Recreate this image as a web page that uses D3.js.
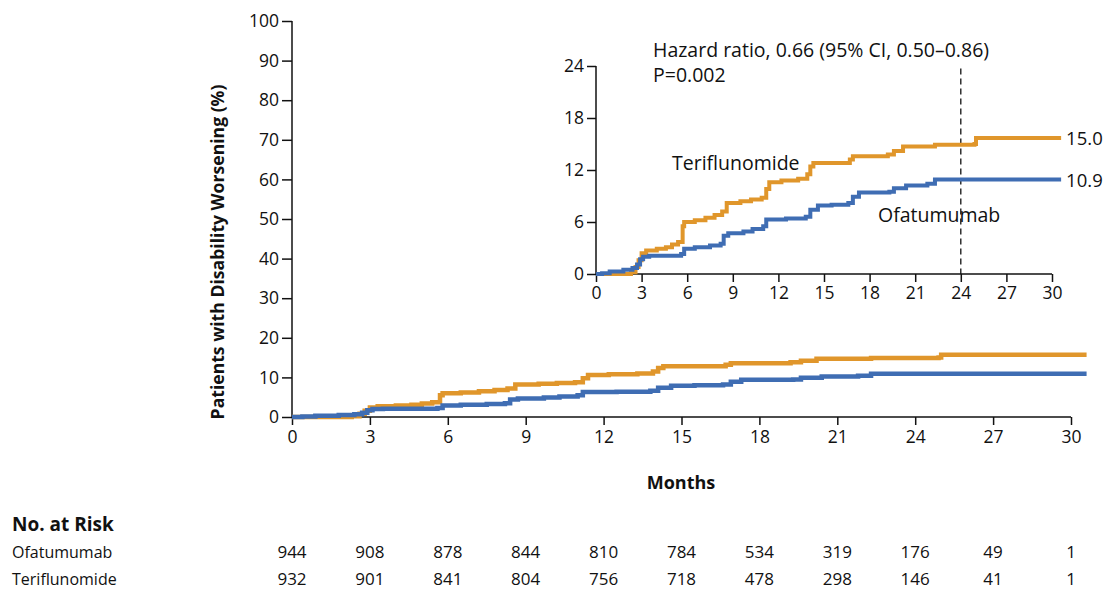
<!DOCTYPE html>
<html>
<head>
<meta charset="utf-8">
<script src="https://cdn.jsdelivr.net/npm/d3@7"></script>
<style>
  body { margin: 0; background: #fff; }
  text { font-family: "Open Sans", sans-serif; fill: #111; }
</style>
</head>
<body>
<svg id="chart" width="1106" height="589"></svg>
<script>
// data
const months = [0, 3, 6, 9, 12, 15, 18, 21, 24, 27, 30];
const mainYTicks = [0, 10, 20, 30, 40, 50, 60, 70, 80, 90, 100];
const insetYTicks = [0, 6, 12, 18, 24];

// cumulative % with disability worsening, [month, pct]
const teriflunomide = [[0,0],[2.3,0.2],[2.6,0.8],[2.8,1.6],[3.0,2.4],[3.3,2.7],[4.0,2.9],[4.6,3.1],[5.0,3.4],[5.4,3.7],
  [5.7,5.5],[5.8,6.0],[6.5,6.2],[7.2,6.5],[7.8,6.8],[8.3,7.2],[8.6,8.2],[9.5,8.4],[10.2,8.6],[10.9,8.8],
  [11.2,9.8],[11.4,10.6],[12.2,10.8],[13.3,11.0],[13.9,11.5],[14.1,12.4],[14.3,12.8],[16.7,13.2],[16.9,13.6],
  [19.2,13.8],[19.6,14.2],[20.2,14.7],[22.3,14.9],[24.9,15.0],[25.0,15.7],[30.6,15.7]];
const ofatumumab = [[0,0],[0.4,0.1],[0.9,0.3],[1.8,0.5],[2.4,0.7],[2.7,1.1],[2.9,1.7],[3.1,2.0],[3.5,2.1],[5.6,2.3],
  [5.8,2.9],[6.5,3.1],[7.5,3.3],[8.2,3.5],[8.4,4.4],[8.7,4.7],[9.7,4.9],[10.3,5.2],[11.0,5.5],[11.2,6.3],
  [12.5,6.4],[13.8,6.6],[14.1,7.4],[14.6,7.9],[15.5,8.0],[16.6,8.2],[16.9,8.9],[17.3,9.4],[19.3,9.5],
  [19.6,9.9],[20.4,10.2],[21.8,10.4],[22.3,10.9],[30.6,10.9]];

const ofatumumabRisk = [944, 908, 878, 844, 810, 784, 534, 319, 176, 49, 1];
const teriflunomideRisk = [932, 901, 841, 804, 756, 718, 478, 298, 146, 41, 1];

const orange = "#E0962B";
const blue = "#3F6DB3";

const svg = d3.select("#chart");

// ---- main chart
const x = d3.scaleLinear().domain([0, 30]).range([292, 1071]);
const y = d3.scaleLinear().domain([0, 100]).range([417, 21]);

const xAxis = svg.append("g")
  .attr("transform", `translate(0,${y(0)})`)
  .call(d3.axisBottom(x).tickValues(months).tickSize(8).tickPadding(6));
const yAxis = svg.append("g")
  .attr("transform", `translate(${x(0)},0)`)
  .call(d3.axisLeft(y).tickValues(mainYTicks).tickSize(10).tickPadding(3));

[xAxis, yAxis].forEach(a => {
  a.select(".domain").attr("stroke", "#111").attr("stroke-width", 1.5);
  a.selectAll(".tick line").attr("stroke", "#111").attr("stroke-width", 1.5);
  a.selectAll(".tick text").style("font-size", "17.5px").attr("fill", "#111");
});
xAxis.select(".domain").attr("d", `M${x(0)},0H${x(30)}`);
yAxis.select(".domain").attr("d", `M0,${y(100)}V${y(0)}`);

const line = d3.line()
  .x(d => x(d[0]))
  .y(d => y(d[1]))
  .curve(d3.curveStepAfter);

svg.append("path").datum(teriflunomide)
  .attr("fill", "none").attr("stroke", orange).attr("stroke-width", 4.5).attr("d", line);
svg.append("path").datum(ofatumumab)
  .attr("fill", "none").attr("stroke", blue).attr("stroke-width", 4.5).attr("d", line);

svg.append("text")
  .attr("transform", `translate(224,252) rotate(-90)`)
  .attr("text-anchor", "middle")
  .style("font-size", "17.6px").style("font-weight", "bold")
  .text("Patients with Disability Worsening (%)");

svg.append("text")
  .attr("x", 681).attr("y", 489)
  .attr("text-anchor", "middle")
  .style("font-size", "18px").style("font-weight", "bold")
  .text("Months");

// ---- inset
const ix = d3.scaleLinear().domain([0, 30]).range([596, 1052]);
const iy = d3.scaleLinear().domain([0, 24]).range([274, 66]);

const ixAxis = svg.append("g")
  .attr("transform", `translate(0,${iy(0)})`)
  .call(d3.axisBottom(ix).tickValues(months).tickSize(8).tickPadding(5));
const iyAxis = svg.append("g")
  .attr("transform", `translate(${ix(0)},0)`)
  .call(d3.axisLeft(iy).tickValues(insetYTicks).tickSize(9).tickPadding(3));

[ixAxis, iyAxis].forEach(a => {
  a.select(".domain").attr("stroke", "#111").attr("stroke-width", 1.5);
  a.selectAll(".tick line").attr("stroke", "#111").attr("stroke-width", 1.5);
  a.selectAll(".tick text").style("font-size", "17.5px").attr("fill", "#111");
});
ixAxis.select(".domain").attr("d", `M${ix(0)},0H${ix(30)}`);
iyAxis.select(".domain").attr("d", `M0,${iy(24)}V${iy(0)}`);

svg.append("line")
  .attr("x1", ix(24)).attr("x2", ix(24))
  .attr("y1", iy(23.7)).attr("y2", iy(0))
  .attr("stroke", "#111").attr("stroke-width", 1.3).attr("stroke-dasharray", "6,4");

const iline = d3.line()
  .x(d => ix(d[0]))
  .y(d => iy(d[1]))
  .curve(d3.curveStepAfter);

svg.append("path").datum(teriflunomide)
  .attr("fill", "none").attr("stroke", orange).attr("stroke-width", 4).attr("d", iline);
svg.append("path").datum(ofatumumab)
  .attr("fill", "none").attr("stroke", blue).attr("stroke-width", 4).attr("d", iline);

const tLast = teriflunomide[teriflunomide.length - 1];
const oLast = ofatumumab[ofatumumab.length - 1];
svg.append("text").attr("x", ix(tLast[0]) + 5).attr("y", iy(tLast[1]) + 7)
  .style("font-size", "18.5px").text("15.0");
svg.append("text").attr("x", ix(oLast[0]) + 5).attr("y", iy(oLast[1]) + 7)
  .style("font-size", "18.5px").text("10.9");

svg.append("text").attr("x", 672).attr("y", 170).style("font-size", "19.5px").text("Teriflunomide");
svg.append("text").attr("x", 878).attr("y", 222).style("font-size", "19.5px").text("Ofatumumab");

svg.append("text").attr("x", 653).attr("y", 57).style("font-size", "19.5px")
  .text("Hazard ratio, 0.66 (95% CI, 0.50\u20130.86)");
svg.append("text").attr("x", 653).attr("y", 82).style("font-size", "19.5px").text("P=0.002");

// ---- number at risk
svg.append("text").attr("x", 12).attr("y", 531)
  .style("font-size", "19px").style("font-weight", "bold").text("No. at Risk");
svg.append("text").attr("x", 12).attr("y", 558).style("font-size", "16px").text("Ofatumumab");
svg.append("text").attr("x", 12).attr("y", 585).style("font-size", "16px").text("Teriflunomide");

svg.append("g").selectAll("text").data(ofatumumabRisk).join("text")
  .attr("x", (d, i) => x(months[i])).attr("y", 558)
  .attr("text-anchor", "middle").style("font-size", "17px").text(d => d);
svg.append("g").selectAll("text").data(teriflunomideRisk).join("text")
  .attr("x", (d, i) => x(months[i])).attr("y", 585)
  .attr("text-anchor", "middle").style("font-size", "17px").text(d => d);
</script>
</body>
</html>
